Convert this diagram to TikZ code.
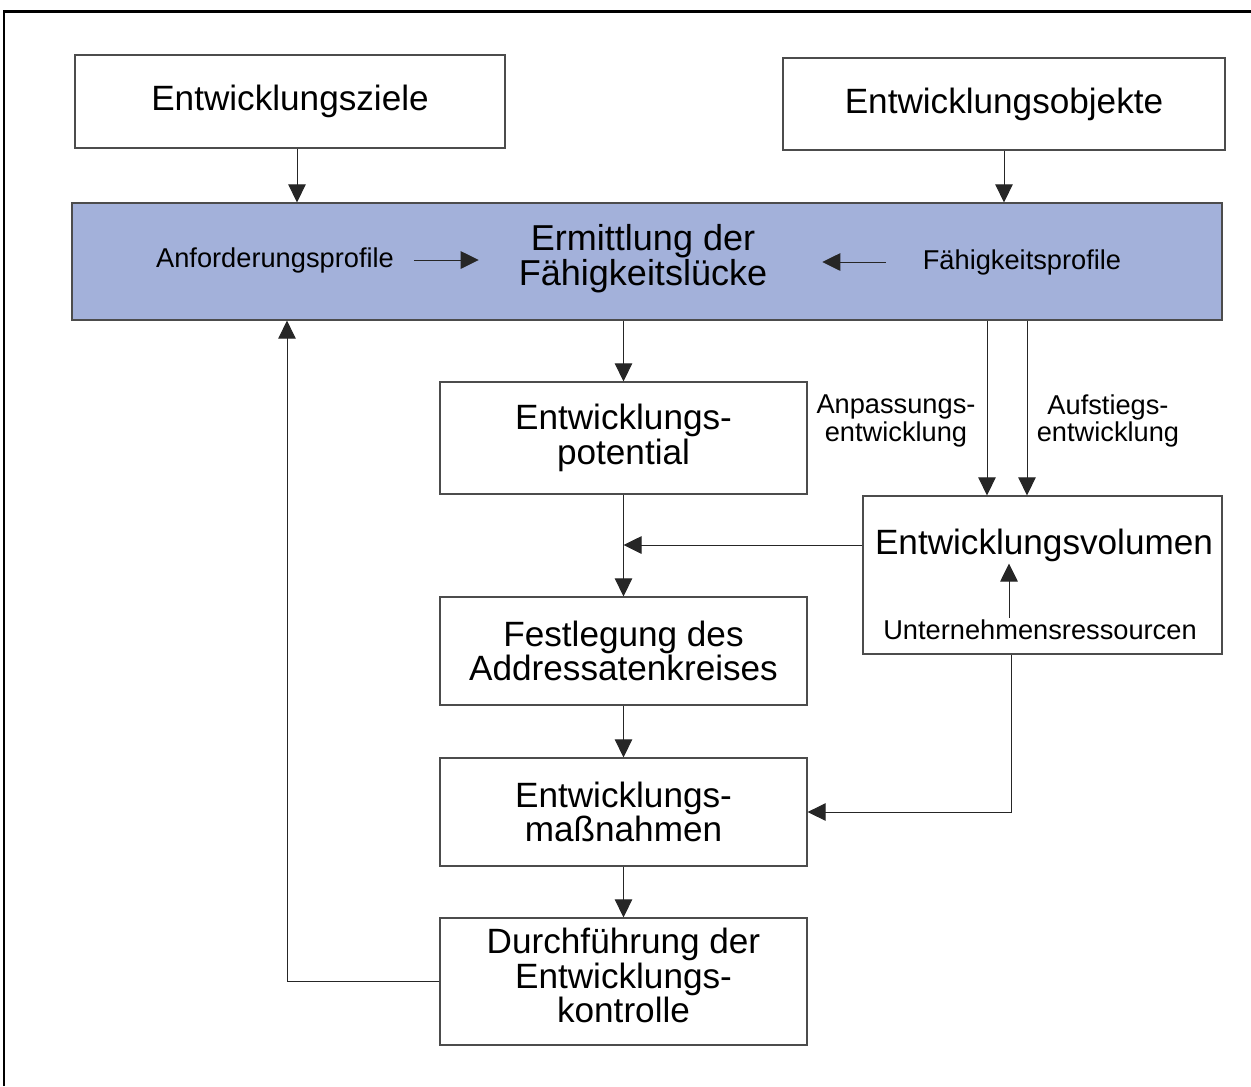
\documentclass[tikz,border=0pt]{standalone}
\usepackage{fontspec}
\setmainfont{Liberation Sans}
\usetikzlibrary{arrows.meta}
\usetikzlibrary{positioning}
\definecolor{bandblue}{RGB}{163,177,218}

\begin{document}
\begin{tikzpicture}[x=0.2mm,y=-0.2mm]
  \tikzset{block/.style = {shape=rectangle,draw=black!70,line width=0.7pt,align=center,inner sep=0pt,font=\fontsize{20}{19.5}\selectfont}}
  \tikzset{txt/.style = {align=center,inner sep=1pt,font=\fontsize{20}{19.5}\selectfont}}
  \tikzset{small/.style = {align=center,inner sep=1pt,font=\fontsize{15.5}{15.5}\selectfont}}
  \tikzset{edge/.style = {-{Triangle[length=3.6mm,width=3.5mm]},draw=black!85,line width=0.5pt}}

  \useasboundingbox (0,0) rectangle (1251,1086);
  \draw[line width=1.7pt] (4,1086) -- (4,11) -- (1251,11);

  \node[block, minimum width=86mm, minimum height=18.6mm] (ziele) at (290,101.5) {Entwicklungsziele};
  \node[block, minimum width=88.4mm, minimum height=18.4mm] (objekte) at (1004,104) {Entwicklungsobjekte};

  \node[block, fill=bandblue, minimum width=230mm, minimum height=23.4mm] (band) at (647,261.5) {};
  \node[txt, font=\fontsize{20.5}{18.5}\selectfont] (erm) at (643,259) {Ermittlung der\\Fähigkeitslücke};
  \node[small] (anf) at (275,260) {Anforderungsprofile};
  \node[small] (faeh) at (1022,262) {Fähigkeitsprofile};

  \node[block, minimum width=73.4mm, minimum height=22.4mm] (potential) at (623.5,438) {Entwicklungs-\\potential};
  \node[block, minimum width=73.4mm, minimum height=21.6mm] (festlegung) at (623.5,651) {Festlegung des\\Addressatenkreises};
  \node[block, minimum width=73.4mm, minimum height=21.6mm] (massnahmen) at (623.5,812) {Entwicklungs-\\maßnahmen};
  \node[block, minimum width=73.4mm, minimum height=25.4mm] (kontrolle) at (623.5,981.5) {Durchführung der\\Entwicklungs-\\kontrolle\rule[-2.4mm]{0pt}{0pt}};

  \node[block, minimum width=71.8mm, minimum height=31.6mm] (volumen) at (1042.5,575) {};
  \node[txt] (voltxt) at (1044,545) {Entwicklungsvolumen};
  \node[small] (ress) at (1040,630) {Unternehmensressourcen};

  \node[small] (anpassung) at (896,421) {Anpassungs-\\entwicklung};
  \node[small] (aufstieg) at (1108,421) {Aufstiegs-\\entwicklung};

  \draw[edge] ([xshift=1.4mm]ziele.south) -- ([xshift=1.4mm]ziele.south |- band.north);
  \draw[edge] (objekte.south) -- (objekte.south |- band.north);

  \draw[edge, shorten <=3.6mm, shorten >=7.6mm] (anf.east) -- (anf.east -| erm.west);
  \draw[edge, shorten <=7mm, shorten >=10.6mm] (faeh.west) -- (faeh.west -| erm.east);

  \draw[edge] (potential.north |- band.south) -- (potential.north);
  \draw[edge] ([xshift=-11.1mm]volumen.north |- band.south) -- ([xshift=-11.1mm]volumen.north);
  \draw[edge] ([xshift=-3.1mm]volumen.north |- band.south) -- ([xshift=-3.1mm]volumen.north);

  \draw[edge] (potential.south) -- (festlegung.north);
  \draw[edge] (volumen.west |- voltxt) -- (potential.south |- voltxt);
  \draw[edge] (festlegung.south) -- (massnahmen.north);
  \draw[edge] (massnahmen.south) -- (kontrolle.north);

  \draw[edge] ([xshift=-6.2mm]ress.north) -- ([xshift=-6.2mm]ress.north |- voltxt.south);
  \draw[edge] ([xshift=-6.3mm]volumen.south) |- (massnahmen.east);
  \draw[edge] (kontrolle.west) -| ([xshift=-72mm]band.south);
\end{tikzpicture}
\end{document}
